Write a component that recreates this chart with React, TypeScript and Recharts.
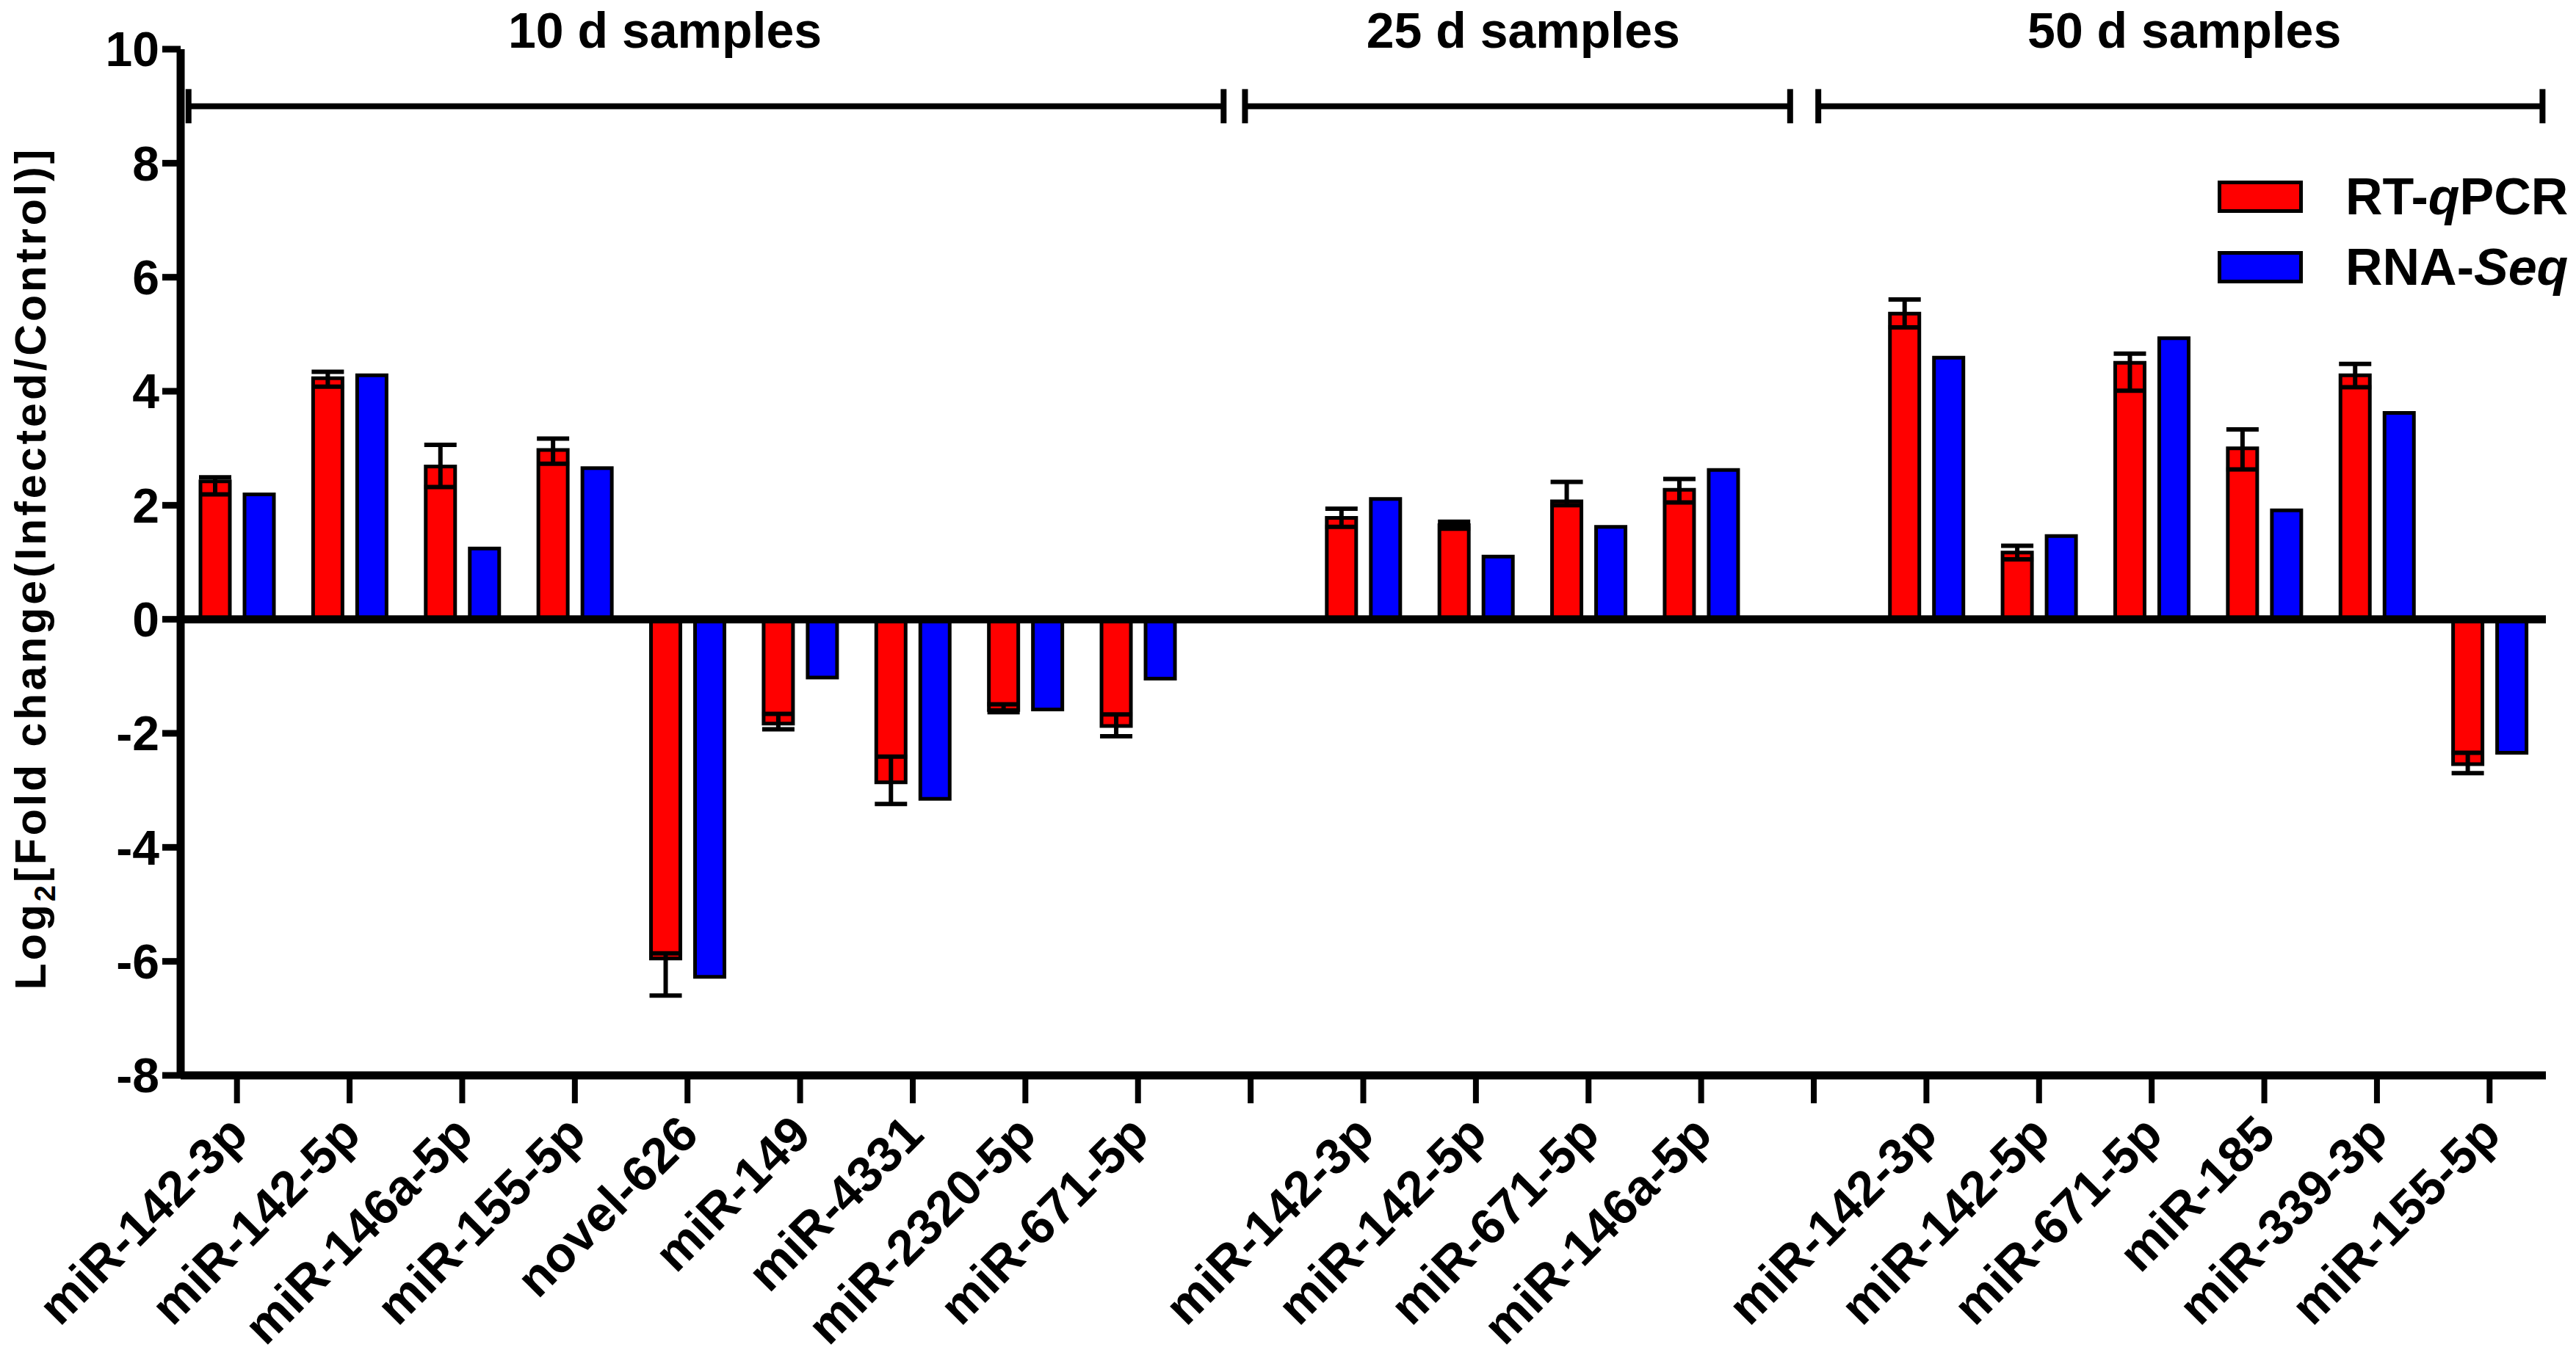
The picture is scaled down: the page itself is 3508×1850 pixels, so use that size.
import React from 'react'
import {
  BarChart,
  Bar,
  XAxis,
  YAxis,
  ErrorBar,
  ReferenceLine,
  ReferenceDot,
  Legend,
} from 'recharts'

/* ---------- data ---------- */

// '' = empty spacer slot between the sampling groups
const categories = [
  'miR-142-3p', 'miR-142-5p', 'miR-146a-5p', 'miR-155-5p', 'novel-626',
  'miR-149', 'miR-4331', 'miR-2320-5p', 'miR-671-5p',
  '',
  'miR-142-3p', 'miR-142-5p', 'miR-671-5p', 'miR-146a-5p',
  '',
  'miR-142-3p', 'miR-142-5p', 'miR-671-5p', 'miR-185', 'miR-339-3p', 'miR-155-5p',
]

const rtqpcr = [
  2.42, 4.23, 2.68, 2.97, -5.95, -1.83, -2.86, -1.59, -1.87,
  null,
  1.78, 1.65, 2.07, 2.27,
  null,
  5.36, 1.17, 4.5, 3.0, 4.28, -2.54,
]
// error below / above the mean (log2 scale, so not symmetric)
const rtqpcrErrLow = [
  0.23, 0.15, 0.36, 0.24, 0.65, 0.1, 0.38, 0.04, 0.18,
  null,
  0.16, 0.06, 0.07, 0.22,
  null,
  0.24, 0.12, 0.49, 0.37, 0.21, 0.16,
]
const rtqpcrErrHigh = [
  0.07, 0.11, 0.38, 0.2, 0.09, 0.17, 0.45, 0.1, 0.2,
  null,
  0.16, 0.06, 0.34, 0.19,
  null,
  0.25, 0.12, 0.16, 0.33, 0.2, 0.2,
]
const rnaseq = [
  2.19, 4.28, 1.24, 2.65, -6.27, -1.02, -3.15, -1.58, -1.04,
  null,
  2.11, 1.1, 1.62, 2.62,
  null,
  4.59, 1.46, 4.93, 1.91, 3.62, -2.34,
]

const yTicks = [-8, -6, -4, -2, 0, 2, 4, 6, 8, 10]

// sampling-time brackets, in slot units (slot i centred on i)
const groupNames = ['10 d samples', '25 d samples', '50 d samples']
const groupStart = [-0.43, 8.95, 14.04]
const groupEnd = [8.76, 13.79, 20.47]
const groupTitleX = [3.8, 11.42, 17.29]
const BRACKET_Y = 9

const seriesNames = ['RT-qPCR', 'RNA-Seq']

const chartData = categories.map((label, i) => ({
  slot: i,
  label,
  rt: rtqpcr[i],
  seq: rnaseq[i],
  rtErr: rtqpcr[i] == null ? null : [rtqpcrErrLow[i], rtqpcrErrHigh[i]],
}))

/* ---------- styling ---------- */

const FONT = "'Liberation Sans', Arial, Helvetica, sans-serif"
const RED = '#ff0000'
const BLUE = '#0000ff'

// series names with italic parts
const seriesLabel: Record<string, React.ReactNode> = {
  'RT-qPCR': (
    <>RT-<i>q</i>PCR</>
  ),
  'RNA-Seq': (
    <>RNA-<i>Seq</i></>
  ),
}

function CategoryTick(props: { x?: number; y?: number; payload?: { value: string } }) {
  const { x = 0, y = 0, payload } = props
  if (!payload?.value) return null
  return (
    <text
      transform={`translate(${x + 18},${y + 44}) rotate(-45)`}
      textAnchor="end"
      fontFamily={FONT}
      fontSize={68}
      fontWeight={700}
      fill="#000"
    >
      {payload.value}
    </text>
  )
}

function YAxisTitle(props: { viewBox?: { x: number; y: number; width: number; height: number } }) {
  const vb = props.viewBox ?? { x: 0, y: 0, width: 0, height: 0 }
  const cx = vb.x + 62
  const cy = vb.y + vb.height / 2 + 8
  return (
    <text
      transform={`translate(${cx},${cy}) rotate(-90)`}
      textAnchor="middle"
      fontFamily={FONT}
      fontSize={59}
      fontWeight={700}
      letterSpacing={4}
      fill="#000"
    >
      Log
      <tspan fontSize={40} dy={13}>2</tspan>
      <tspan dy={-13}>[Fold change(Infected/Control)]</tspan>
    </text>
  )
}

function GroupTitle(props: { viewBox?: { x: number; y: number; width: number; height: number }; text?: string }) {
  const vb = props.viewBox ?? { x: 0, y: 0, width: 0, height: 0 }
  return (
    <text
      x={vb.x + vb.width / 2}
      y={vb.y + vb.height / 2 - 80}
      textAnchor="middle"
      fontFamily={FONT}
      fontSize={68}
      fontWeight={700}
      fill="#000"
    >
      {props.text}
    </text>
  )
}

function LegendContent(props: { payload?: Array<{ value: string; color?: string }> }) {
  // keep series order (Legend sorts by name otherwise)
  const items = [...(props.payload ?? [])].sort(
    (a, b) => seriesNames.indexOf(a.value) - seriesNames.indexOf(b.value)
  )
  return (
    <div style={{ fontFamily: FONT, fontWeight: 700, fontSize: 70, lineHeight: '96px' }}>
      {items.map(p => (
        <div key={p.value} style={{ display: 'flex', alignItems: 'center', whiteSpace: 'nowrap' }}>
          <span
            style={{
              display: 'inline-block',
              width: 106,
              height: 34,
              background: p.color,
              border: '5px solid #000',
              marginRight: 58,
            }}
          />
          <span>{seriesLabel[p.value] ?? p.value}</span>
        </div>
      ))}
    </div>
  )
}

export default function App() {
  return (
    <div style={{ position: 'absolute', left: 0, top: 0, background: '#fff' }}>
      <BarChart
        width={3508}
        height={1850}
        data={chartData}
        margin={{ top: 67, right: 41, left: 0, bottom: 15 }}
        barSize={40}
        barGap={20}
      >
        <XAxis
          dataKey="label"
          height={370}
          interval={0}
          tickSize={38}
          axisLine={{ stroke: '#000', strokeWidth: 11 }}
          tickLine={{ stroke: '#000', strokeWidth: 8 }}
          tick={<CategoryTick />}
        />
        {/* numeric twin of the category axis, for the group brackets */}
        <XAxis
          xAxisId="num"
          dataKey="slot"
          type="number"
          domain={[-0.5, 20.5]}
          allowDataOverflow
          hide
        />
        <YAxis
          width={246}
          domain={[-8, 10]}
          ticks={yTicks}
          interval={0}
          tickSize={25}
          tickMargin={4}
          allowDataOverflow
          axisLine={{ stroke: '#000', strokeWidth: 11 }}
          tickLine={{ stroke: '#000', strokeWidth: 9 }}
          tick={{ fontFamily: FONT, fontSize: 66, fontWeight: 700, fill: '#000' }}
          label={<YAxisTitle />}
        />
        <Legend
          layout="vertical"
          align="center"
          verticalAlign="middle"
          content={<LegendContent />}
          wrapperStyle={{ left: 3020, top: 220, width: 488, height: 200 }}
        />
        <Bar dataKey="rt" name="RT-qPCR" fill={RED} stroke="#000" strokeWidth={5} isAnimationActive={false}>
          <ErrorBar dataKey="rtErr" width={22} stroke="#000" strokeWidth={6} isAnimationActive={false} />
        </Bar>
        <Bar dataKey="seq" name="RNA-Seq" fill={BLUE} stroke="#000" strokeWidth={5} isAnimationActive={false} />
        <ReferenceLine y={0} stroke="#000" strokeWidth={11} />
        {groupNames.map((name, i) => (
          <ReferenceLine
            key={`b-${name}`}
            xAxisId="num"
            segment={[{ x: groupStart[i], y: BRACKET_Y }, { x: groupEnd[i], y: BRACKET_Y }]}
            stroke="#000"
            strokeWidth={8}
          />
        ))}
        {groupNames.flatMap((name, i) =>
          [groupStart[i], groupEnd[i]].map((gx, j) => (
            <ReferenceLine
              key={`c-${name}-${j}`}
              xAxisId="num"
              segment={[{ x: gx, y: BRACKET_Y - 0.3 }, { x: gx, y: BRACKET_Y + 0.3 }]}
              stroke="#000"
              strokeWidth={8}
            />
          ))
        )}
        {groupNames.map((name, i) => (
          <ReferenceDot
            key={`t-${name}`}
            xAxisId="num"
            x={groupTitleX[i]}
            y={BRACKET_Y}
            r={1}
            fill="none"
            stroke="none"
            label={<GroupTitle text={name} />}
          />
        ))}
      </BarChart>
    </div>
  )
}
